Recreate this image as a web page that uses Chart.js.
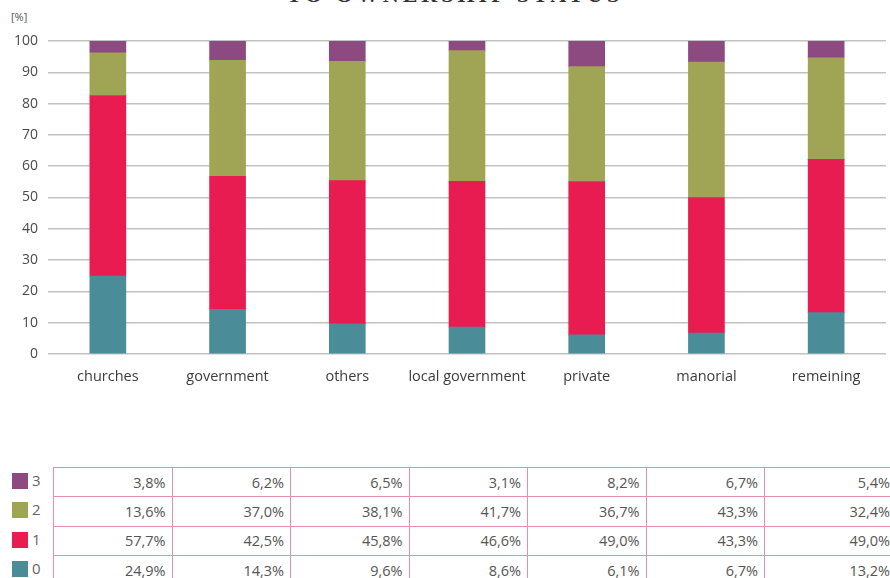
<!DOCTYPE html>
<html>
<head>
<meta charset="utf-8">
<script src="https://cdn.jsdelivr.net/npm/chart.js@4.4.1/dist/chart.umd.min.js"></script>
<style>
  html, body { margin: 0; padding: 0; background: #fff; }
  body { width: 890px; height: 578px; position: relative; overflow: hidden; font-family: "Open Sans", sans-serif; }
  #title {
    position: absolute; left: 0; width: 910px; top: -18px; text-align: center;
    font: bold 22px "Liberation Serif", serif; letter-spacing: 4px; color: #333;
  }
  #unit { position: absolute; left: 11px; top: 9px; font-size: 11px; color: #555; }
  #chart { position: absolute; left: 0; top: 0; }
  #legend { position: absolute; left: 12px; top: 467px; }
  .key { height: 29.3px; position: relative; }
  .key i { position: absolute; left: 0; top: 6px; width: 16px; height: 16px; }
  .key span { position: absolute; left: 20px; top: 3px; font-size: 15px; color: #666; }
  #table { position: absolute; left: 53px; top: 467px; border-collapse: collapse; table-layout: fixed; }
  #table td {
    width: 118.5px; min-width: 118.5px; height: 29.3px; padding: 0 6px 0 0; text-align: right;
    border: 1.5px solid #e58fb0; font-size: 14.5px; color: #555; box-sizing: border-box;
  }
  #table td:last-child { width: 132px; min-width: 132px; }
</style>
</head>
<body>
<div id="title">TO OWNERSHIP STATUS</div>
<div id="unit">[%]</div>
<canvas id="chart" width="890" height="400"></canvas>
<div id="legend"></div>
<table id="table"></table>
<script>
  // stacked shares per ownership status, levels 0..3
  const categories = ["churches", "government", "others", "local government", "private", "manorial", "remeining"];
  const level0 = [24.9, 14.3, 9.6, 8.6, 6.1, 6.7, 13.2];
  const level1 = [57.7, 42.5, 45.8, 46.6, 49.0, 43.3, 49.0];
  const level2 = [13.6, 37.0, 38.1, 41.7, 36.7, 43.3, 32.4];
  const level3 = [3.8, 6.2, 6.5, 3.1, 8.2, 6.7, 5.4];
  const yTicks = [0, 10, 20, 30, 40, 50, 60, 70, 80, 90, 100];

  const series = [
    { label: "0", data: level0, color: "#4a8c98" },
    { label: "1", data: level1, color: "#e81c50" },
    { label: "2", data: level2, color: "#a0a556" },
    { label: "3", data: level3, color: "#8c4a80" },
  ];

  const pct = (v) => v.toFixed(1).replace(".", ",") + "%";

  new Chart(document.getElementById("chart"), {
    type: "bar",
    data: {
      labels: categories,
      datasets: series.map((s) => ({
        label: s.label,
        data: s.data,
        backgroundColor: s.color,
        barThickness: 36,
        borderWidth: 0,
      })),
    },
    options: {
      responsive: false,
      animation: false,
      layout: { padding: { top: 41, right: 4, bottom: 0, left: 0 } },
      plugins: { legend: { display: false }, tooltip: { enabled: false } },
      scales: {
        x: {
          stacked: true,
          grid: { display: false },
          border: { display: false },
          ticks: {
            color: "#3c3c3c",
            font: { family: "Open Sans", size: 14.5 },
            padding: 6,
            maxRotation: 0,
            autoSkip: false,
          },
          afterFit: (scale) => { scale.height = 46; },
        },
        y: {
          stacked: true,
          min: 0,
          max: 100,
          afterBuildTicks: (scale) => { scale.ticks = yTicks.map((v) => ({ value: v })); },
          grid: { color: "#c2c2c2", lineWidth: 1.5, drawTicks: false },
          border: { display: false },
          ticks: {
            color: "#4a4a4a",
            font: { family: "Open Sans", size: 14 },
            padding: 10,
          },
          afterFit: (scale) => { scale.width = 48; },
        },
      },
    },
  });

  // legend keys and value table, top row = level 3
  const rows = series.slice().reverse();
  const legend = document.getElementById("legend");
  const table = document.getElementById("table");
  rows.forEach((s) => {
    const key = document.createElement("div");
    key.className = "key";
    key.innerHTML = `<i style="background:${s.color}"></i><span>${s.label}</span>`;
    legend.appendChild(key);
    const tr = document.createElement("tr");
    s.data.forEach((v) => {
      const td = document.createElement("td");
      td.textContent = pct(v);
      tr.appendChild(td);
    });
    table.appendChild(tr);
  });
</script>
</body>
</html>
